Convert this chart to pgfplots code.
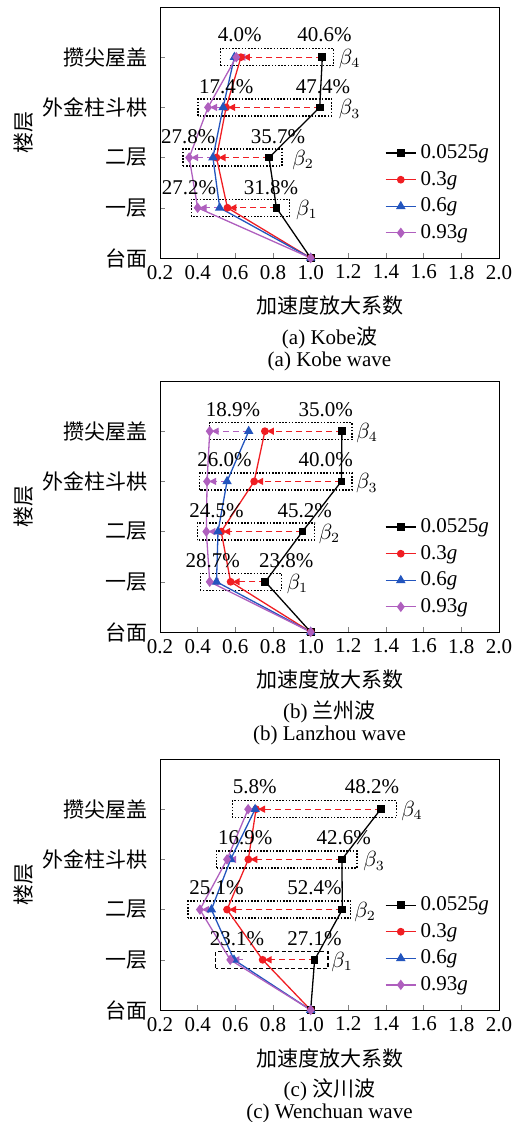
\documentclass[border=0pt]{standalone}
\usepackage{fontspec}
\setmainfont{Liberation Serif}
\newfontfamily\cjk{Noto Sans CJK SC}
\usepackage{pgfplots}
\pgfplotsset{compat=1.18}
\usetikzlibrary{arrows.meta}

\definecolor{cred}{RGB}{240,30,35}
\definecolor{cblue}{RGB}{35,85,190}
\definecolor{cpurp}{RGB}{175,95,190}
\newcommand{\fs}{\fontsize{10.5}{12.6}\selectfont}

\pgfplotsset{
  panel/.style={
    scale only axis, width=169.5pt, height=125.5pt,
    anchor=north west, clip=false,
    xmin=0.2, xmax=2.0, ymin=0, ymax=5,
    xtick={0.2,0.4,0.6,0.8,1.0,1.2,1.4,1.6,1.8,2.0},
    ytick={0,1,2,3,4},
    yticklabels={台面,一层,二层,外金柱斗栱,攒尖屋盖},
    tick align=inside, xtick pos=bottom, ytick pos=left,
    major tick length=2.5pt,
    /pgf/number format/assume math mode=true,
    xticklabel style={/pgf/number format/.cd, fixed, fixed zerofill, precision=1},
    tick label style={font=\rmfamily\fs},
    yticklabel style={font=\cjk\fs, xshift=-2.5pt},
    every axis plot/.append style={line width=0.65pt},
    legend style={at={(rel axis cs:0.645,0.485)}, anchor=north west,
      draw=none, fill=none, font=\rmfamily\fs, row sep=0.8pt},
    legend cell align=left,
    legend image code/.code={\draw[mark repeat=2,mark phase=2,##1]
      plot coordinates {(0cm,0cm) (0.265cm,0cm) (0.53cm,0cm)};},
  },
  s1/.style={black, mark=square*, mark size=1.6pt},
  s2/.style={cred, mark=*, mark size=1.6pt},
  s3/.style={cblue, mark=triangle*, mark size=2.1pt},
  s4/.style={cpurp, mark=diamond*, mark size=2.1pt},
  arr/.style={dash pattern=on 3pt off 2pt, -{Triangle[length=3.5pt,width=3.5pt]},
    shorten >=1pt, forget plot},
}
\tikzset{
  bx/.style={black, line width=0.75pt, dash pattern=on 0.8pt off 0.8pt},
  bxd/.style={black, line width=0.75pt, dash pattern=on 2pt off 1.2pt},
  mypct/.style={font=\rmfamily\fs, anchor=center},
  mycap/.style={font=\rmfamily\fs, anchor=center},
}

\begin{document}
\begin{tikzpicture}
\useasboundingbox (0,0) rectangle (259.5pt,-561pt);

% ---------- (a) Kobe ----------
\begin{axis}[panel, at={(80pt,-3.5pt)}]
\draw[bx] (axis cs:0.52,3.83) rectangle (axis cs:1.122,4.17);
\draw[bx] (axis cs:0.402,2.83) rectangle (axis cs:1.11,3.17);
\draw[bx] (axis cs:0.322,1.83) rectangle (axis cs:0.847,2.17);
\draw[bx] (axis cs:0.366,0.83) rectangle (axis cs:0.888,1.17);
\addplot[s1] coordinates {(1.0,0) (0.818,1) (0.779,2) (1.048,3) (1.062,4)};
\addplot[s2] coordinates {(1.0,0) (0.558,1) (0.500,2) (0.551,3) (0.630,4)};
\addplot[s3] coordinates {(1.0,0) (0.517,1) (0.481,2) (0.535,3) (0.595,4)};
\addplot[s4] coordinates {(1.0,0) (0.400,1) (0.355,2) (0.455,3) (0.605,4)};
\legend{0.0525\textit{g},0.3\textit{g},0.6\textit{g},0.93\textit{g}}
\addplot[cred, arr] coordinates {(1.062,4) (0.630,4)};
\addplot[cred, arr] coordinates {(1.048,3) (0.551,3)};
\addplot[cred, arr] coordinates {(0.779,2) (0.500,2)};
\addplot[cred, arr] coordinates {(0.818,1) (0.558,1)};
\addplot[cpurp, arr] coordinates {(0.640,4) (0.605,4)};
\addplot[cpurp, arr] coordinates {(0.535,3) (0.455,3)};
\addplot[cpurp, arr] coordinates {(0.481,2) (0.355,2)};
\addplot[cpurp, arr] coordinates {(0.517,1) (0.400,1)};
\node[mypct] at (axis cs:0.623,4.45) {4.0\%};
\node[mypct] at (axis cs:1.074,4.45) {40.6\%};
\node[mypct] at (axis cs:0.552,3.41) {17.4\%};
\node[mypct] at (axis cs:1.065,3.41) {47.4\%};
\node[mypct] at (axis cs:0.350,2.42) {27.8\%};
\node[mypct] at (axis cs:0.827,2.42) {35.7\%};
\node[mypct] at (axis cs:0.354,1.40) {27.2\%};
\node[mypct] at (axis cs:0.790,1.40) {31.8\%};
\node[mypct] at (axis cs:1.207,3.96) {$\beta_4$};
\node[mypct] at (axis cs:1.207,2.96) {$\beta_3$};
\node[mypct] at (axis cs:0.960,1.96) {$\beta_2$};
\node[mypct] at (axis cs:0.980,0.96) {$\beta_1$};
\node[mycap, font=\cjk\fs, rotate=90] at ([xshift=-68pt]rel axis cs:0,0.5) {楼层};
\node[mycap, font=\cjk\fs] at ([yshift=-24pt]rel axis cs:0.5,0) {加速度放大系数};
\node[mycap] at ([yshift=-40pt]rel axis cs:0.5,0) {(a) Kobe{\cjk 波}};
\node[mycap] at ([yshift=-51.5pt]rel axis cs:0.5,0) {(a) Kobe wave};
\end{axis}

% ---------- (b) Lanzhou ----------
\begin{axis}[panel, at={(80pt,-190.5pt)}]
\draw[bx] (axis cs:0.464,3.83) rectangle (axis cs:1.219,4.17);
\draw[bx] (axis cs:0.410,2.83) rectangle (axis cs:1.220,3.17);
\draw[bx] (axis cs:0.398,1.83) rectangle (axis cs:1.021,2.17);
\draw[bx] (axis cs:0.414,0.83) rectangle (axis cs:0.844,1.17);
\addplot[s1] coordinates {(1.0,0) (0.759,1) (0.956,2) (1.163,3) (1.166,4)};
\addplot[s2] coordinates {(1.0,0) (0.575,1) (0.525,2) (0.700,3) (0.757,4)};
\addplot[s3] coordinates {(1.0,0) (0.500,1) (0.508,2) (0.556,3) (0.671,4)};
\addplot[s4] coordinates {(1.0,0) (0.464,1) (0.446,2) (0.450,3) (0.464,4)};
\legend{0.0525\textit{g},0.3\textit{g},0.6\textit{g},0.93\textit{g}}
\addplot[cred, arr] coordinates {(1.166,4) (0.757,4)};
\addplot[cred, arr] coordinates {(1.163,3) (0.700,3)};
\addplot[cred, arr] coordinates {(0.956,2) (0.525,2)};
\addplot[cred, arr] coordinates {(0.759,1) (0.575,1)};
\addplot[cpurp, arr] coordinates {(0.671,4) (0.464,4)};
\addplot[cpurp, arr] coordinates {(0.556,3) (0.450,3)};
\addplot[cpurp, arr] coordinates {(0.508,2) (0.446,2)};
\addplot[cpurp, arr] coordinates {(0.500,1) (0.464,1)};
\node[mypct] at (axis cs:0.588,4.43) {18.9\%};
\node[mypct] at (axis cs:1.080,4.43) {35.0\%};
\node[mypct] at (axis cs:0.543,3.43) {26.0\%};
\node[mypct] at (axis cs:1.080,3.43) {40.0\%};
\node[mypct] at (axis cs:0.500,2.42) {24.5\%};
\node[mypct] at (axis cs:0.968,2.42) {45.2\%};
\node[mypct] at (axis cs:0.480,1.43) {28.7\%};
\node[mypct] at (axis cs:0.870,1.43) {23.8\%};
\node[mypct] at (axis cs:1.300,3.96) {$\beta_4$};
\node[mypct] at (axis cs:1.298,2.96) {$\beta_3$};
\node[mypct] at (axis cs:1.100,1.96) {$\beta_2$};
\node[mypct] at (axis cs:0.930,0.96) {$\beta_1$};
\node[mycap, font=\cjk\fs, rotate=90] at ([xshift=-68pt]rel axis cs:0,0.5) {楼层};
\node[mycap, font=\cjk\fs] at ([yshift=-24pt]rel axis cs:0.5,0) {加速度放大系数};
\node[mycap] at ([yshift=-40pt]rel axis cs:0.5,0) {(b) {\cjk 兰州波}};
\node[mycap] at ([yshift=-51.5pt]rel axis cs:0.5,0) {(b) Lanzhou wave};
\end{axis}

% ---------- (c) Wenchuan ----------
\begin{axis}[panel, at={(80pt,-379.5pt)}]
\draw[bx] (axis cs:0.584,3.83) rectangle (axis cs:1.455,4.17);
\draw[bx] (axis cs:0.499,2.83) rectangle (axis cs:1.246,3.17);
\draw[bx] (axis cs:0.349,1.83) rectangle (axis cs:1.212,2.17);
\draw[bxd] (axis cs:0.496,0.83) rectangle (axis cs:1.092,1.17);
\addplot[s1] coordinates {(1.0,0) (1.021,1) (1.168,2) (1.166,3) (1.372,4)};
\addplot[s2] coordinates {(1.0,0) (0.745,1) (0.556,2) (0.669,3) (0.710,4)};
\addplot[s3] coordinates {(1.0,0) (0.593,1) (0.473,2) (0.575,3) (0.705,4)};
\addplot[s4] coordinates {(1.0,0) (0.573,1) (0.412,2) (0.556,3) (0.668,4)};
\legend{0.0525\textit{g},0.3\textit{g},0.6\textit{g},0.93\textit{g}}
\addplot[cred, arr] coordinates {(1.372,4) (0.710,4)};
\addplot[cred, arr] coordinates {(1.166,3) (0.669,3)};
\addplot[cred, arr] coordinates {(1.168,2) (0.556,2)};
\addplot[cred, arr] coordinates {(1.021,1) (0.745,1)};
\addplot[cpurp, arr] coordinates {(0.705,4) (0.668,4)};
\addplot[cpurp, arr] coordinates {(0.575,3) (0.556,3)};
\addplot[cpurp, arr] coordinates {(0.473,2) (0.412,2)};
\addplot[cpurp, arr] coordinates {(0.640,1) (0.573,1)};
\node[mypct] at (axis cs:0.703,4.44) {5.8\%};
\node[mypct] at (axis cs:1.326,4.44) {48.2\%};
\node[mypct] at (axis cs:0.653,3.43) {16.9\%};
\node[mypct] at (axis cs:1.175,3.43) {42.6\%};
\node[mypct] at (axis cs:0.500,2.43) {25.1\%};
\node[mypct] at (axis cs:1.020,2.43) {52.4\%};
\node[mypct] at (axis cs:0.609,1.43) {23.1\%};
\node[mypct] at (axis cs:1.020,1.43) {27.1\%};
\node[mypct] at (axis cs:1.538,3.96) {$\beta_4$};
\node[mypct] at (axis cs:1.337,2.96) {$\beta_3$};
\node[mypct] at (axis cs:1.289,1.96) {$\beta_2$};
\node[mypct] at (axis cs:1.167,0.96) {$\beta_1$};
\node[mycap, font=\cjk\fs, rotate=90] at ([xshift=-68pt]rel axis cs:0,0.5) {楼层};
\node[mycap, font=\cjk\fs] at ([yshift=-24pt]rel axis cs:0.5,0) {加速度放大系数};
\node[mycap] at ([yshift=-40pt]rel axis cs:0.5,0) {(c) {\cjk 汶川波}};
\node[mycap] at ([yshift=-51.5pt]rel axis cs:0.5,0) {(c) Wenchuan wave};
\end{axis}
\end{tikzpicture}
\end{document}
